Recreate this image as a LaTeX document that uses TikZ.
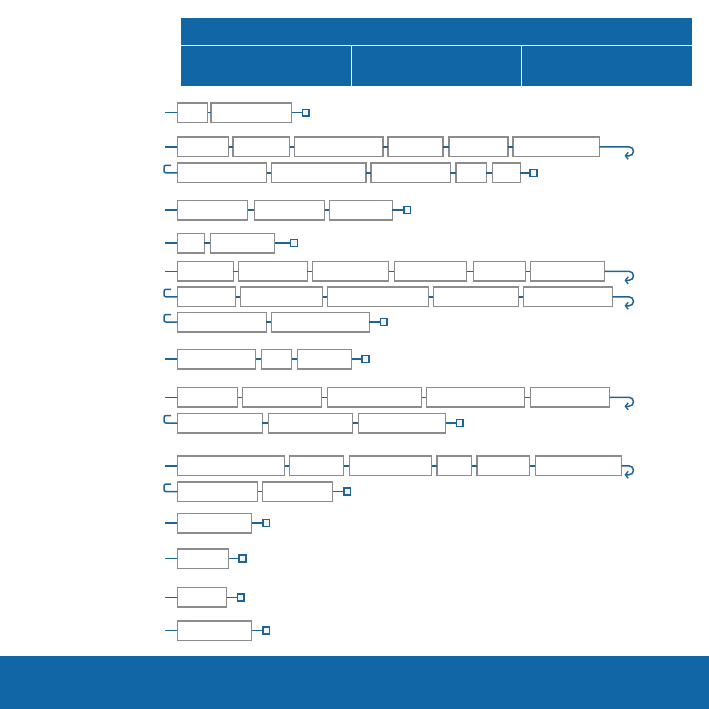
\documentclass[tikz,border=0pt]{standalone}
\usetikzlibrary{arrows.meta}
\definecolor{hdrblue}{HTML}{1166A5}
\definecolor{connblue}{HTML}{1F6494}
\definecolor{boxgray}{HTML}{8C8C8C}
\definecolor{sqfill}{HTML}{EEF4F9}
\tikzset{
  rbox/.style={draw=boxgray,line width=1.5pt,fill=white,inner sep=0pt,outer sep=0pt,minimum height=19.5pt},
  conn/.style={draw=connblue,line width=1.5pt},
  endsq/.style={draw=connblue,line width=1.4pt,fill=sqfill,inner sep=0pt,outer sep=0pt,minimum size=6.8pt},
  retarrow/.style={conn,-{Straight Barb[length=2.8pt,width=7pt,line width=1.4pt]}},
  hookline/.style={conn,rounded corners=2pt}
}
\newcommand{\bx}[4]{\node[rbox,anchor=west,minimum width={(#3)-(#2)}] (#1) at (#2,#4) {};}
\newcommand{\lk}[2]{\draw[conn] (#1.east) -- (#2.west);}
\newcommand{\entry}[2]{\coordinate (s#1) at (165,#2); \draw[conn] (s#1) -- (#1.west);}
\newcommand{\fin}[3]{\node[endsq] (e#1) at (#2,#3) {}; \draw[conn] (#1.east) -- (e#1.west);}
\newcommand{\ret}[2]{\coordinate (r#1) at (624.5,#2+9); \coordinate (q#1) at (629,#2); \draw[retarrow] (#1.east) -- (q#1) arc[start angle=-90,end angle=90,radius=4.5] -- (r#1);}
\newcommand{\hook}[2]{\coordinate (h#1) at (171,#2-7.5); \draw[hookline] (h#1) -- ++(-7,0) -- ++(0,7.5) -- (#1.west);}
\begin{document}
\begin{tikzpicture}[x=1pt,y=-1pt]
\useasboundingbox (0,0) rectangle (709,709);
% header
\fill[hdrblue] (180.5,18) rectangle (691.5,85.5);
\draw[white,line width=1.3pt] (180.5,45.5) -- (691.5,45.5);
\draw[white,line width=1.3pt] (351.5,45.5) -- (351.5,85.5);
\draw[white,line width=1.3pt] (521.5,45.5) -- (521.5,85.5);
% bottom band
\fill[hdrblue] (0,656) rectangle (709,709);

% row 1
\bx{a1}{177.3}{207.7}{112.7}
\bx{a2}{211}{291.7}{112.7}
\entry{a1}{112.7} \lk{a1}{a2} \fin{a2}{305.7}{112.7}

% row 2
\bx{b1}{177.3}{228.7}{146.8}
\bx{b2}{233}{289.7}{146.8}
\bx{b3}{294.3}{383}{146.8}
\bx{b4}{388}{443}{146.8}
\bx{b5}{449}{508}{146.8}
\bx{b6}{513}{599.3}{146.8}
\entry{b1}{146.8} \lk{b1}{b2} \lk{b2}{b3} \lk{b3}{b4} \lk{b4}{b5} \lk{b5}{b6} \ret{b6}{146.8}
\bx{c1}{177.3}{266.7}{172.8}
\bx{c2}{271.3}{366}{172.8}
\bx{c3}{371}{450.3}{172.8}
\bx{c4}{456}{486.3}{172.8}
\bx{c5}{492.3}{520.3}{172.8}
\hook{c1}{172.8} \lk{c1}{c2} \lk{c2}{c3} \lk{c3}{c4} \lk{c4}{c5} \fin{c5}{533.5}{172.8}

% row 3
\bx{d1}{177.3}{247.7}{210}
\bx{d2}{254.3}{324.7}{210}
\bx{d3}{329.3}{392.3}{210}
\entry{d1}{210} \lk{d1}{d2} \lk{d2}{d3} \fin{d3}{407.3}{210}

% row 4
\bx{f1}{177.3}{204.3}{243}
\bx{f2}{210.3}{274.7}{243}
\entry{f1}{243} \lk{f1}{f2} \fin{f2}{293.8}{243}

% row 5
\bx{g1}{177.3}{233.3}{271.3}
\bx{g2}{238.3}{307.3}{271.3}
\bx{g3}{312.3}{388.7}{271.3}
\bx{g4}{394.3}{466.7}{271.3}
\bx{g5}{473.3}{525.7}{271.3}
\bx{g6}{530.3}{604.7}{271.3}
\entry{g1}{271.3} \lk{g1}{g2} \lk{g2}{g3} \lk{g3}{g4} \lk{g4}{g5} \lk{g5}{g6} \ret{g6}{271.3}
\bx{k1}{177.3}{235.7}{296.8}
\bx{k2}{240.3}{322.7}{296.8}
\bx{k3}{327.3}{428.5}{296.8}
\bx{k4}{433.3}{518.7}{296.8}
\bx{k5}{523.3}{612.7}{296.8}
\hook{k1}{296.8} \lk{k1}{k2} \lk{k2}{k3} \lk{k3}{k4} \lk{k4}{k5} \ret{k5}{296.8}
\bx{m1}{177.3}{266.3}{322}
\bx{m2}{271.3}{369.3}{322}
\hook{m1}{322} \lk{m1}{m2} \fin{m2}{383.7}{322}

% row 6
\bx{n1}{177.3}{255.7}{359}
\bx{n2}{261.3}{291.7}{359}
\bx{n3}{297.3}{351.7}{359}
\entry{n1}{359} \lk{n1}{n2} \lk{n2}{n3} \fin{n3}{365.5}{359}

% row 7
\bx{p1}{177.3}{237.7}{397.3}
\bx{p2}{242.3}{321.7}{397.3}
\bx{p3}{327.3}{421.7}{397.3}
\bx{p4}{426.3}{524.7}{397.3}
\bx{p5}{530.3}{609.7}{397.3}
\entry{p1}{397.3} \lk{p1}{p2} \lk{p2}{p3} \lk{p3}{p4} \lk{p4}{p5} \ret{p5}{397.3}
\bx{u1}{177.3}{262.3}{423}
\bx{u2}{268.3}{352.7}{423}
\bx{u3}{358.3}{445.7}{423}
\hook{u1}{423} \lk{u1}{u2} \lk{u2}{u3} \fin{u3}{459.7}{423}

% row 8
\bx{v1}{177.3}{284.7}{465.8}
\bx{v2}{289.3}{343.7}{465.8}
\bx{v3}{349.3}{431.7}{465.8}
\bx{v4}{437}{471.7}{465.8}
\bx{v5}{477}{529.7}{465.8}
\bx{v6}{535.3}{621.7}{465.8}
\entry{v1}{465.8} \lk{v1}{v2} \lk{v2}{v3} \lk{v3}{v4} \lk{v4}{v5} \lk{v5}{v6} \ret{v6}{465.8}
\bx{w1}{177.3}{257.7}{491.5}
\bx{w2}{262.3}{332.7}{491.5}
\hook{w1}{491.5} \lk{w1}{w2} \fin{w2}{347.3}{491.5}

% rows 9-12
\bx{x1}{177.3}{251.7}{523}
\entry{x1}{523} \fin{x1}{266.2}{523}
\bx{y1}{177.3}{228.7}{558.5}
\entry{y1}{558.5} \fin{y1}{242.5}{558.5}
\bx{z1}{177.3}{226.7}{597.4}
\entry{z1}{597.4} \fin{z1}{240.7}{597.4}
\bx{t1}{177.3}{251.7}{630.5}
\entry{t1}{630.5} \fin{t1}{266.2}{630.5}
\end{tikzpicture}
\end{document}
